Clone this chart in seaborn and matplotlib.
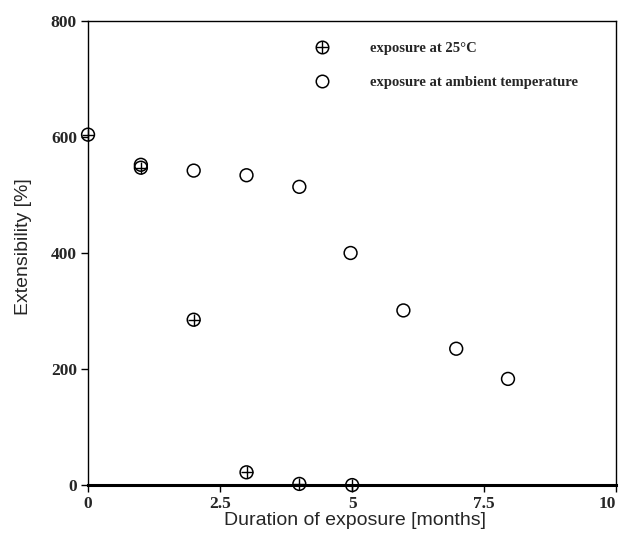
import pandas as pd
import seaborn as sns
import matplotlib.pyplot as plt
from matplotlib.lines import Line2D
from matplotlib.legend_handler import HandlerTuple

# data
months_25 = [0, 1, 2, 3, 4, 5]
ext_25 = [604, 547, 285, 22, 2, 0]
months_amb = [1, 2, 3, 4, 4.97, 5.97, 6.97, 7.95]
ext_amb = [552, 542, 534, 514, 400, 301, 235, 183]
label_25 = "exposure at 25°C"
label_amb = "exposure at ambient temperature"
xticks = [0, 2.5, 5, 7.5, 10]
xticklabels = ["0", "2.5", "5", "7.5", "10"]
yticks = [0, 200, 400, 600, 800]

df25 = pd.DataFrame({"month": months_25, "ext": ext_25})
dfamb = pd.DataFrame({"month": months_amb, "ext": ext_amb})

sns.set_style("white")
fig = plt.figure(figsize=(6.2, 5.36), dpi=100)
ax = fig.add_axes([0.142, 0.095, 0.852, 0.866])

ms = 85
sns.scatterplot(data=dfamb, x="month", y="ext", marker="o", s=ms,
                facecolor="none", edgecolor="black", linewidth=1.1, ax=ax, clip_on=False)
sns.scatterplot(data=df25, x="month", y="ext", marker="o", s=ms,
                facecolor="none", edgecolor="black", linewidth=1.1, ax=ax, clip_on=False, zorder=4)
sns.scatterplot(data=df25, x="month", y="ext", marker="+", s=ms,
                color="black", linewidth=1.0, ax=ax, clip_on=False, zorder=4)

ax.set_xlim(0, 10)
ax.set_ylim(0, 800)
ax.set_xticks(xticks)
ax.set_xticklabels(xticklabels)
ax.set_yticks(yticks)

for lab in ax.get_xticklabels() + ax.get_yticklabels():
    lab.set_fontfamily("Liberation Serif")
    lab.set_fontweight("bold")
    lab.set_fontsize(12.5)
ax.get_xticklabels()[-1].set_horizontalalignment("right")

ax.tick_params(axis="both", direction="out", length=5, width=1, color="black",
               bottom=True, left=True, pad=3)
for s in ax.spines.values():
    s.set_color("black")
    s.set_linewidth(1.0)
ax.spines["bottom"].set_linewidth(2.2)

ax.set_xlabel("Duration of exposure [months]", fontfamily="Liberation Sans", fontsize=14)
ax.set_ylabel("Extensibility [%]", fontfamily="Liberation Sans", fontsize=14)
ax.xaxis.set_label_coords(0.505, -0.058)
ax.yaxis.set_label_coords(-0.106, 0.513)

h25 = (Line2D([], [], ls="none", marker="o", mfc="none", mec="black", ms=9, mew=1.1),
       Line2D([], [], ls="none", marker="+", color="black", ms=9, mew=1.0))
hamb = Line2D([], [], ls="none", marker="o", mfc="none", mec="black", ms=9, mew=1.1)
ax.legend([h25, hamb], [label_25, label_amb], handler_map={tuple: HandlerTuple(ndivide=1)},
          loc="upper left", bbox_to_anchor=(0.398, 0.984), frameon=False,
          prop={"family": "Liberation Serif", "weight": "bold", "size": 10.5},
          handletextpad=2.5, labelspacing=1.45, handlelength=1.5)

fig.savefig("out.png", dpi=100)
